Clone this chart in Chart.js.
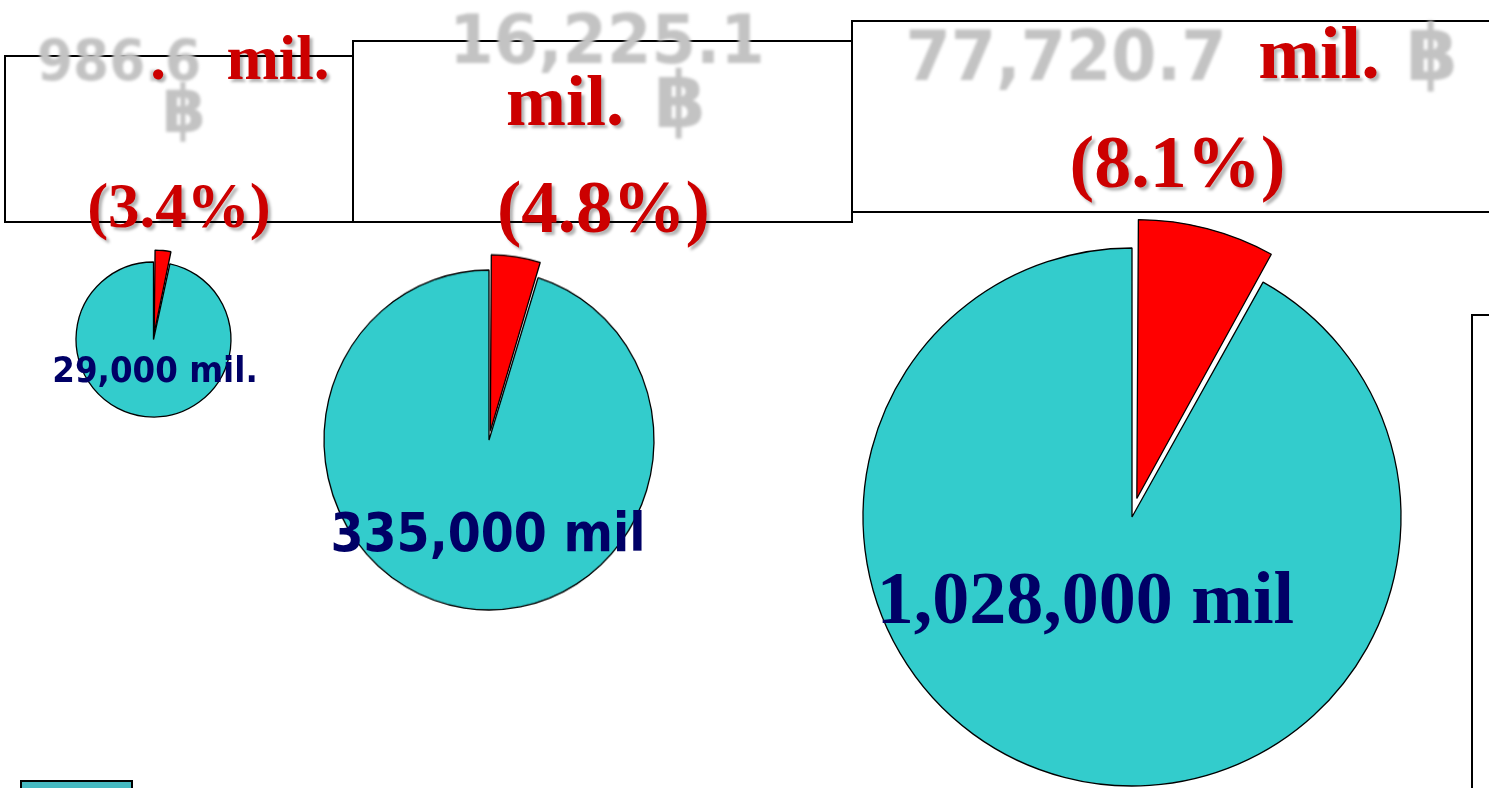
<!DOCTYPE html>
<html>
<head>
<meta charset="utf-8">
<script src="https://cdn.jsdelivr.net/npm/chart.js@4.4.1/dist/chart.umd.min.js"></script>
<style>
  html, body { margin: 0; padding: 0; background: #fff; }
  body { width: 1489px; height: 788px; position: relative; overflow: hidden; }
  .box { position: absolute; border: 2px solid #000; box-sizing: border-box; }
  .t { position: absolute; white-space: nowrap; line-height: 1; transform-origin: 50% 50%; z-index: 5; }
  .grey { font-family: "DejaVu Sans", "Noto Sans", "Liberation Sans", sans-serif; font-weight: bold; color: #c3c3c3; filter: blur(1.6px); }
  .red { font-family: "Liberation Serif", "Times New Roman", serif; font-weight: bold; color: #cc0000; text-shadow: 3px 3px 3px rgba(0,0,0,0.3); }
  .navy { font-weight: bold; color: #000066; }
  .navy.sans { font-family: "DejaVu Sans", sans-serif; }
  .navy.serif { font-family: "Liberation Serif", "Times New Roman", serif; }
  canvas.pie { position: absolute; z-index: 2; }
  #swatch { position: absolute; left: 20px; top: 780px; width: 113px; height: 24px; box-sizing: border-box; border: 2px solid #000; background: #46b9c1; }
  #frame { position: absolute; left: 1471px; top: 314px; width: 120px; height: 600px; border: 2px solid #000; box-shadow: 1px 1px 0 #999; }
</style>
</head>
<body>
<div class="box" style="left:4px;top:55px;width:350px;height:168px;"></div>
<div class="box" style="left:352px;top:40px;width:501px;height:183px;"></div>
<div class="box" style="left:851px;top:20px;width:700px;height:193px;"></div>
<div id="frame"></div>
<div id="swatch"></div>

<script>
// Market size per year (mil.), the red share and its amount (mil. ฿)
const totals  = [29000, 335000, 1028000];
const amounts = [986.6, 16225.1, 77720.7];
const shares  = [3.4, 4.8, 8.1];
const totalSuffix = [' mil.', ' mil', ' mil'];
const sliceColors = ['#ff0000', '#33cccc'];

// Pie placement on the page
const pieLayout = [
  { cx: 153.5, cy: 339.5, r: 77.5, shift: 12, sy: 1 },
  { cx: 489,   cy: 439.5, r: 165,  shift: 15, sy: 1.03 },
  { cx: 1131.5, cy: 517,  r: 269,  shift: 29, sy: 1 }
];

// Chart.js moves an offset arc by offset/4 * (2 - sin(circumference))
function arcOffsetFor(shiftPx, share) {
  const circ = share / 100 * Math.PI * 2;
  return shiftPx / (0.25 * (2 - Math.sin(Math.min(Math.PI, circ))));
}

pieLayout.forEach((p, i) => {
  const side = Math.ceil(2 * (p.r + p.shift + 8));
  const cv = document.createElement('canvas');
  cv.className = 'pie';
  cv.width = side; cv.height = side;
  cv.style.width = side + 'px'; cv.style.height = side + 'px';
  cv.style.left = (p.cx - side / 2) + 'px';
  cv.style.top = (p.cy - side / 2) + 'px';
  if (p.sy !== 1) cv.style.transform = 'scaleY(' + p.sy + ')';
  document.body.appendChild(cv);

  new Chart(cv, {
    type: 'pie',
    data: {
      labels: ['share', 'rest'],
      datasets: [{
        data: [shares[i], 100 - shares[i]],
        backgroundColor: sliceColors,
        borderColor: '#000',
        borderWidth: 1.3,
        offset: [arcOffsetFor(p.shift, shares[i]), 0]
      }]
    },
    options: {
      responsive: false,
      animation: false,
      events: [],
      radius: p.r,
      layout: { padding: 0 },
      plugins: { legend: { display: false }, tooltip: { enabled: false } }
    }
  });
});

// Text helper: centred at cx with its baseline at y
function put(text, cx, y, cls, size, serif, sx) {
  const el = document.createElement('div');
  el.className = 't ' + cls;
  el.textContent = text;
  el.style.fontSize = size + 'px';
  const asc = serif ? 0.8375 : 0.846;
  el.style.top = (y - asc * size) + 'px';
  el.style.left = cx + 'px';
  el.style.transform = 'translateX(-50%) scaleX(' + (sx || 1) + ')';
  document.body.appendChild(el);
}

const fmt = v => v.toLocaleString('en-US', { minimumFractionDigits: 1, maximumFractionDigits: 1 });

// Box 1
put(fmt(amounts[0]), 119, 81, 'grey', 57, false, 0.91);
put('.', 158, 80, 'red', 63, true);
put('mil.', 278, 80, 'red', 63, true);
put('฿', 184, 133, 'grey', 66, false, 0.95);
put('(' + shares[0] + '%)', 179, 228, 'red', 63, true);

// Box 2
put(fmt(amounts[1]), 606.5, 64, 'grey', 68, false, 0.94);
put('mil.', 565, 125, 'red', 72, true);
put('฿', 680, 127, 'grey', 78, false, 0.95);
put('(' + shares[1] + '%)', 603.5, 232, 'red', 73, true);

// Box 3
put(fmt(amounts[2]), 1066, 80, 'grey', 70, false, 0.93);
put('mil.', 1319, 78, 'red', 74, true);
put('฿', 1432, 80, 'grey', 78, false, 0.95);
put('(' + shares[2] + '%)', 1177.5, 187, 'red', 74, true);

// Totals on the pies
const fmtTotal = i => totals[i].toLocaleString('en-US') + totalSuffix[i];
put(fmtTotal(0), 155, 383, 'navy sans', 35, false, 0.93);
put(fmtTotal(1), 487.5, 552, 'navy sans', 54, false, 0.88);
put(fmtTotal(2), 1085.5, 623, 'navy serif', 74, true);
</script>
</body>
</html>
